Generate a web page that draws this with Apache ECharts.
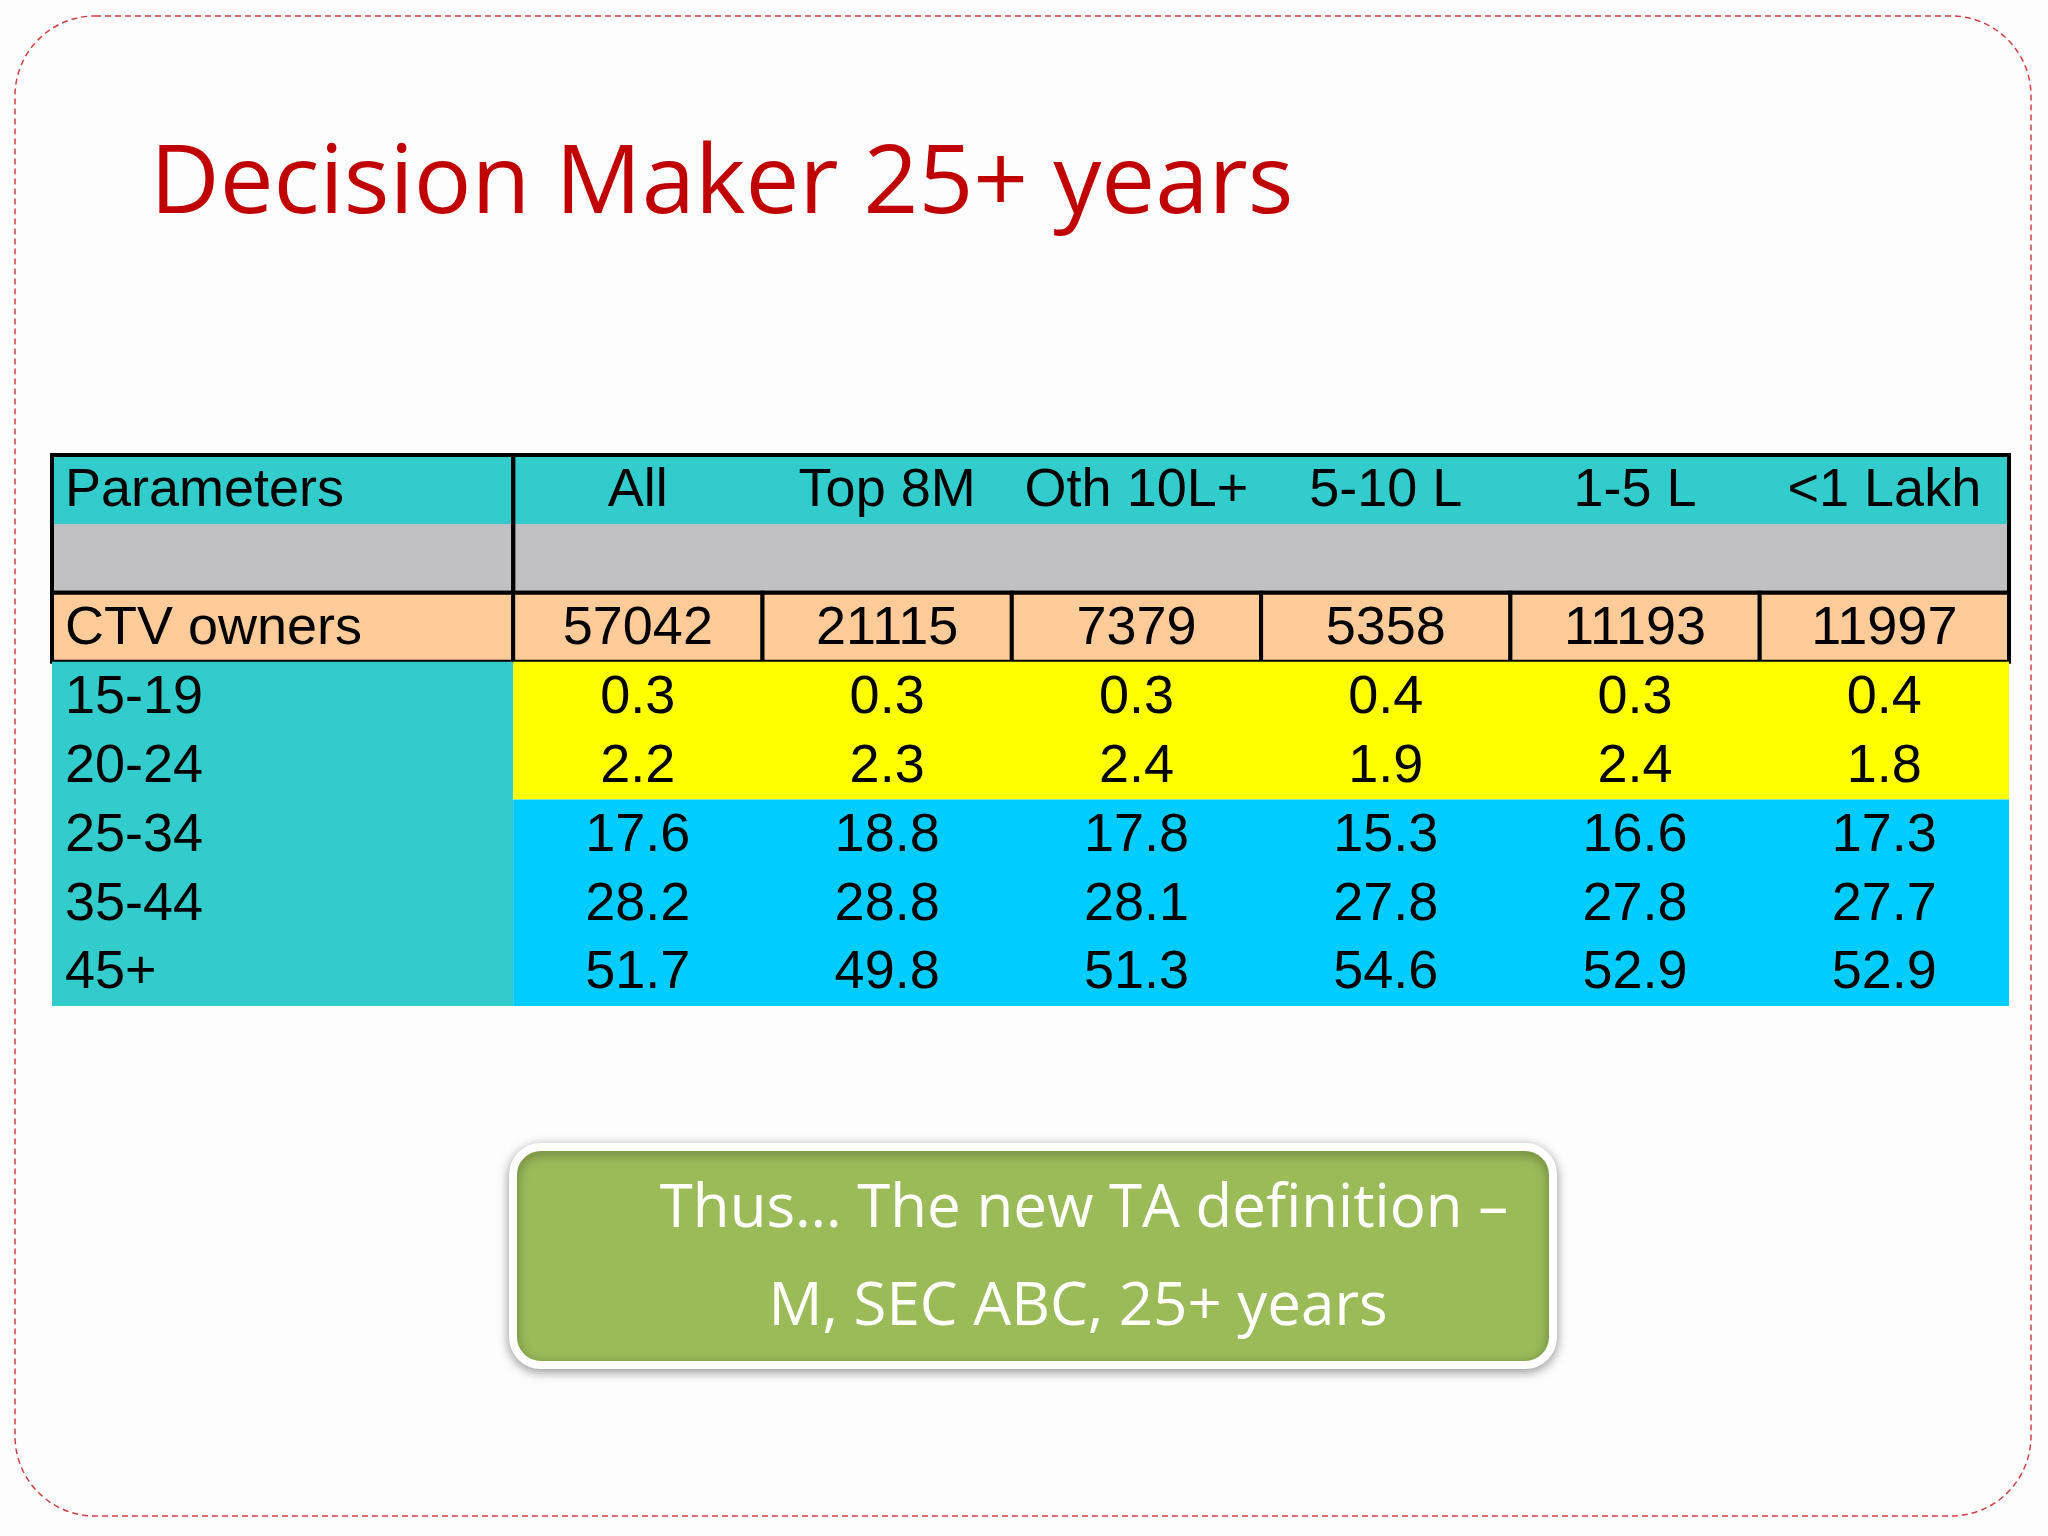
<!DOCTYPE html>
<html>
<head>
<meta charset="utf-8">
<script src="https://cdn.jsdelivr.net/npm/echarts@6/dist/echarts.min.js"></script>
<style>html,body{margin:0;padding:0;background:#fff}#main{width:2048px;height:1536px}</style>
</head>
<body>
<div id="main"></div>
<script>
// 表格数据
var columns = ['All', 'Top 8M', 'Oth 10L+', '5-10 L', '1-5 L', '<1 Lakh'];
var ctvOwners = [57042, 21115, 7379, 5358, 11193, 11997];
var ageGroups = ['15-19', '20-24', '25-34', '35-44', '45+'];
var age15_19 = [0.3, 0.3, 0.3, 0.4, 0.3, 0.4];
var age20_24 = [2.2, 2.3, 2.4, 1.9, 2.4, 1.8];
var age25_34 = [17.6, 18.8, 17.8, 15.3, 16.6, 17.3];
var age35_44 = [28.2, 28.8, 28.1, 27.8, 27.8, 27.7];
var age45p = [51.7, 49.8, 51.3, 54.6, 52.9, 52.9];
var ageValues = [age15_19, age20_24, age25_34, age35_44, age45p];

var myChart = echarts.init(document.getElementById('main'));

var LW = 1.85; // 第一列宽度（单位列宽）
var cells = [];
function add(x0, x1, r0, r1, fill, text, align, border) {
	cells.push({value: [x0, x1, r0, r1], fill: fill, text: text, align: align, border: border});
}
// 表头
add(0, LW, 0, 1, '#33CCCC', 'Parameters', 'left', false);
add(LW, LW + 6, 0, 1, '#33CCCC', '', 'center', false);
columns.forEach(function (c, i) { add(LW + i, LW + i + 1, 0, 1, null, c, 'center', false); });
add(0, LW, 1, 2, '#C1C0C4', '', 'left', false);
add(LW, LW + 6, 1, 2, '#C1C0C4', '', 'left', false);
add(0, LW, 0, 2, null, '', 'left', true);
add(LW, LW + 6, 0, 2, null, '', 'left', true);
// CTV owners
add(0, LW, 2, 3, '#FFCC99', 'CTV owners', 'left', true);
ctvOwners.forEach(function (v, i) { add(LW + i, LW + i + 1, 2, 3, '#FFCC99', String(v), 'center', true); });
// 年龄 背景
add(0, LW, 3, 8, '#33CCCC', '', 'left', false);
add(LW, LW + 6, 3, 5, '#FFFF00', '', 'left', false);
add(LW, LW + 6, 5, 8, '#00CCFF', '', 'left', false);
ageGroups.forEach(function (g, r) {
	add(0, LW, 3 + r, 4 + r, null, g, 'left', false);
	ageValues[r].forEach(function (v, i) { add(LW + i, LW + i + 1, 3 + r, 4 + r, null, v.toFixed(1), 'center', false); });
});

option = {
	backgroundColor: '#fdfdfd',
	grid: {left: 52, top: 455, width: 1957, height: 551},
	xAxis: {type: 'value', min: 0, max: LW + 6, show: false},
	yAxis: {type: 'value', min: 0, max: 8, inverse: true, show: false},
	graphic: [
		{type: 'rect', shape: {x: 15, y: 16, width: 2016, height: 1500, r: 80},
			style: {fill: 'none', stroke: '#d04040', lineWidth: 1.5, lineDash: [6, 4]}},
		{type: 'text', left: 150, top: 138,
			style: {text: 'Decision Maker 25+ years', fill: '#C00000', font: '96px "Open Sans"'}},
		{type: 'rect', shape: {x: 513, y: 1147, width: 1040, height: 218, r: 28},
			style: {fill: '#9BBB59', stroke: '#fff', lineWidth: 8, shadowBlur: 12, shadowColor: 'rgba(0,0,0,0.35)', shadowOffsetY: 3}},
		{type: 'text', x: 1084, y: 1210,
			style: {text: 'Thus\u2026 The new TA definition \u2013', fill: '#fff', font: '60px "Open Sans"', align: 'center', verticalAlign: 'middle'}},
		{type: 'text', x: 1078, y: 1308,
			style: {text: 'M, SEC ABC, 25+ years', fill: '#fff', font: '60px "Open Sans"', align: 'center', verticalAlign: 'middle'}}
	],
	series: [{
		type: 'custom',
		data: cells.map(function (c) { return c.value; }),
		renderItem: function (params, api) {
			var c = cells[params.dataIndex];
			var p0 = api.coord([api.value(0), api.value(2)]);
			var p1 = api.coord([api.value(1), api.value(3)]);
			var children = [];
			if (c.fill || c.border) {
				children.push({type: 'rect', shape: {x: p0[0], y: p0[1], width: p1[0] - p0[0], height: p1[1] - p0[1]},
					style: {fill: c.fill || 'none', stroke: c.border ? '#000' : null, lineWidth: c.border ? 4 : 0}});
			}
			if (c.text) {
				children.push({type: 'text', x: c.align === 'left' ? p0[0] + 13 : (p0[0] + p1[0]) / 2, y: (p0[1] + p1[1]) / 2 + 2,
					style: {text: c.text, fill: '#000', font: '54px "Liberation Sans"', align: c.align, verticalAlign: 'middle'}});
			}
			return {type: 'group', children: children};
		},
		z: 2
	}]
};
myChart.setOption(option);
</script>
</body>
</html>
